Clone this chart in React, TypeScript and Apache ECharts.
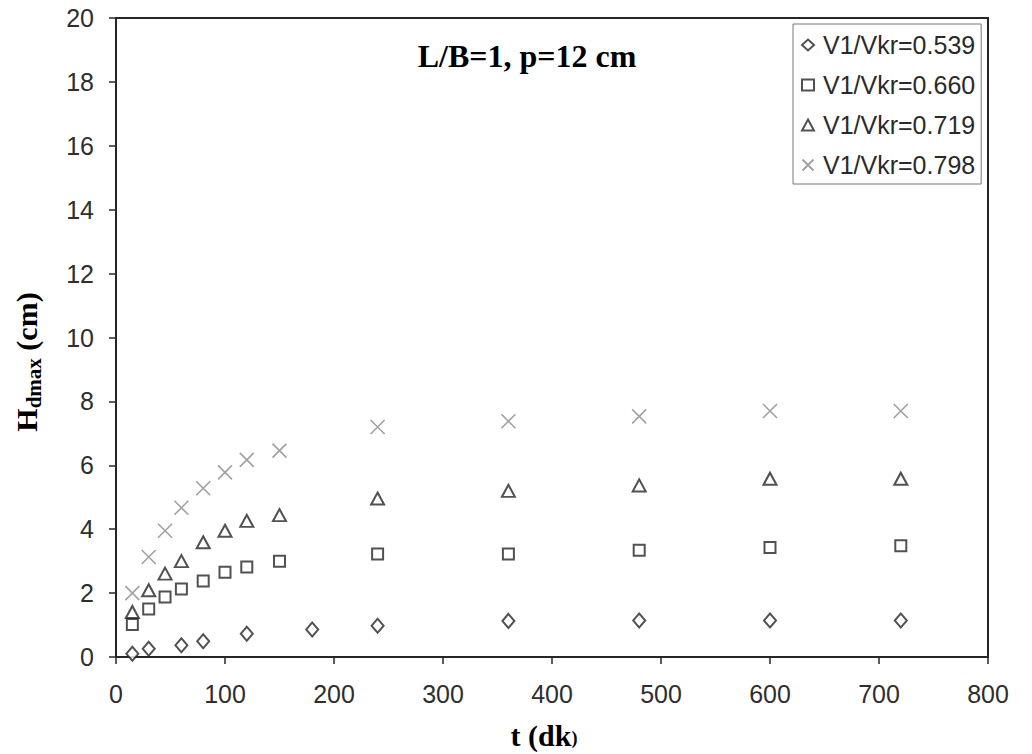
import React, { useEffect, useRef } from "react";
import * as echarts from "echarts";

const xTicks = [0, 100, 200, 300, 400, 500, 600, 700, 800];
const seriesNames = ["V1/Vkr=0.539", "V1/Vkr=0.660", "V1/Vkr=0.719", "V1/Vkr=0.798"];

const tDiamond = [15, 30, 60, 80, 120, 180, 240, 360, 480, 600, 720];
const hDiamond = [0.1, 0.26, 0.37, 0.49, 0.73, 0.86, 0.98, 1.13, 1.14, 1.14, 1.14];

const tOther = [15, 30, 45, 60, 80, 100, 120, 150, 240, 360, 480, 600, 720];
const hSquare = [1.02, 1.5, 1.88, 2.13, 2.38, 2.65, 2.82, 3.0, 3.22, 3.22, 3.34, 3.43, 3.48];
const hTriangle = [1.41, 2.09, 2.61, 3.0, 3.59, 3.95, 4.26, 4.44, 4.96, 5.2, 5.37, 5.58, 5.58];
const hCross = [2.0, 3.13, 3.95, 4.67, 5.28, 5.78, 6.17, 6.46, 7.2, 7.38, 7.53, 7.7, 7.7];

const pair = (xs: number[], ys: number[]) => xs.map((x, i) => [x, ys[i]]);

export default function App() {
  const ref = useRef<HTMLDivElement>(null);
  useEffect(() => {
    if (!ref.current) return;
    const chart = echarts.init(ref.current, null, { renderer: "svg" });
    const dark = "#262626";
    const sans = "Liberation Sans, Arial, sans-serif";
    const serif = "Liberation Serif, Times New Roman, serif";
    chart.setOption({
      animation: false,
      backgroundColor: "#ffffff",
      grid: {
        left: 116,
        right: 44,
        top: 18,
        bottom: 97,
        show: true,
        borderColor: dark,
        borderWidth: 2,
      },
      xAxis: {
        type: "value",
        min: xTicks[0],
        max: xTicks[xTicks.length - 1],
        interval: 100,
        splitLine: { show: false },
        axisLine: { lineStyle: { color: dark, width: 2 } },
        axisTick: { inside: false, length: 7, lineStyle: { color: dark, width: 1.5 } },
        axisLabel: { margin: 24, fontSize: 25, color: "#2e2e2e", fontFamily: sans },
      },
      yAxis: {
        type: "value",
        min: 0,
        max: 20,
        interval: 2,
        splitLine: { show: false },
        axisLine: { lineStyle: { color: dark, width: 2 } },
        axisTick: { inside: false, length: 7, lineStyle: { color: dark, width: 1.5 } },
        axisLabel: { margin: 22, fontSize: 25, color: "#2e2e2e", fontFamily: sans },
      },
      legend: {
        orient: "vertical",
        left: 793,
        top: 24,
        padding: [8, 6, 6, 8],
        itemGap: 14,
        itemWidth: 12,
        itemHeight: 11,
        backgroundColor: "#fff",
        borderColor: "#777",
        borderWidth: 1,
        borderRadius: 0,
        textStyle: { fontSize: 25, color: "#2a2a2a", fontFamily: sans, lineHeight: 26, padding: [0, 0, 0, 4] },
        data: seriesNames,
      },
      graphic: [
        {
          type: "text",
          x: 527,
          y: 56,
          style: {
            text: "L/B=1, p=12 cm",
            fontFamily: serif,
            fontWeight: "bold",
            fontSize: 32,
            fill: "#000",
            textAlign: "center",
            textVerticalAlign: "middle",
          },
        },
        {
          type: "text",
          x: 544,
          y: 735,
          style: {
            text: "{a|t (dk}{b|)}",
            textAlign: "center",
            textVerticalAlign: "middle",
            rich: {
              a: { fontFamily: serif, fontWeight: "bold", fontSize: 30, fill: "#000", lineHeight: 34 },
              b: { fontFamily: serif, fontWeight: "bold", fontSize: 18, fill: "#000", lineHeight: 22, verticalAlign: "bottom", padding: [0, 0, 5, 0] },
            },
          },
        },
        {
          type: "text",
          x: 26,
          y: 362,
          rotation: Math.PI / 2,
          style: {
            text: "{a|H}{b|dmax}{a| (cm)}",
            textAlign: "center",
            textVerticalAlign: "middle",
            rich: {
              a: { fontFamily: serif, fontWeight: "bold", fontSize: 30, fill: "#000", lineHeight: 36 },
              b: { fontFamily: serif, fontWeight: "bold", fontSize: 21, fill: "#000", lineHeight: 36, verticalAlign: "bottom" },
            },
          },
        },
      ],
      series: [
        {
          name: seriesNames[0],
          type: "scatter",
          symbol: "diamond",
          symbolSize: [12, 14],
          itemStyle: { color: "#fff", borderColor: dark, borderWidth: 2 },
          data: pair(tDiamond, hDiamond),
        },
        {
          name: seriesNames[1],
          type: "scatter",
          symbol: "rect",
          symbolSize: 11,
          itemStyle: { color: "#fff", borderColor: dark, borderWidth: 2 },
          data: pair(tOther, hSquare),
        },
        {
          name: seriesNames[2],
          type: "scatter",
          symbol: "triangle",
          symbolSize: [13, 12],
          itemStyle: { color: "#fff", borderColor: dark, borderWidth: 2 },
          data: pair(tOther, hTriangle),
        },
        {
          name: seriesNames[3],
          type: "scatter",
          symbol: "path://M0,0L10,10M10,0L0,10",
          symbolSize: 14,
          itemStyle: { color: "transparent", borderColor: "#8a8a8a", borderWidth: 1.6 },
          data: pair(tOther, hCross),
        },
      ],
    });
    return () => chart.dispose();
  }, []);
  return <div ref={ref} style={{ width: 1032, height: 754, position: "absolute", left: 0, top: 0 }} />;
}
